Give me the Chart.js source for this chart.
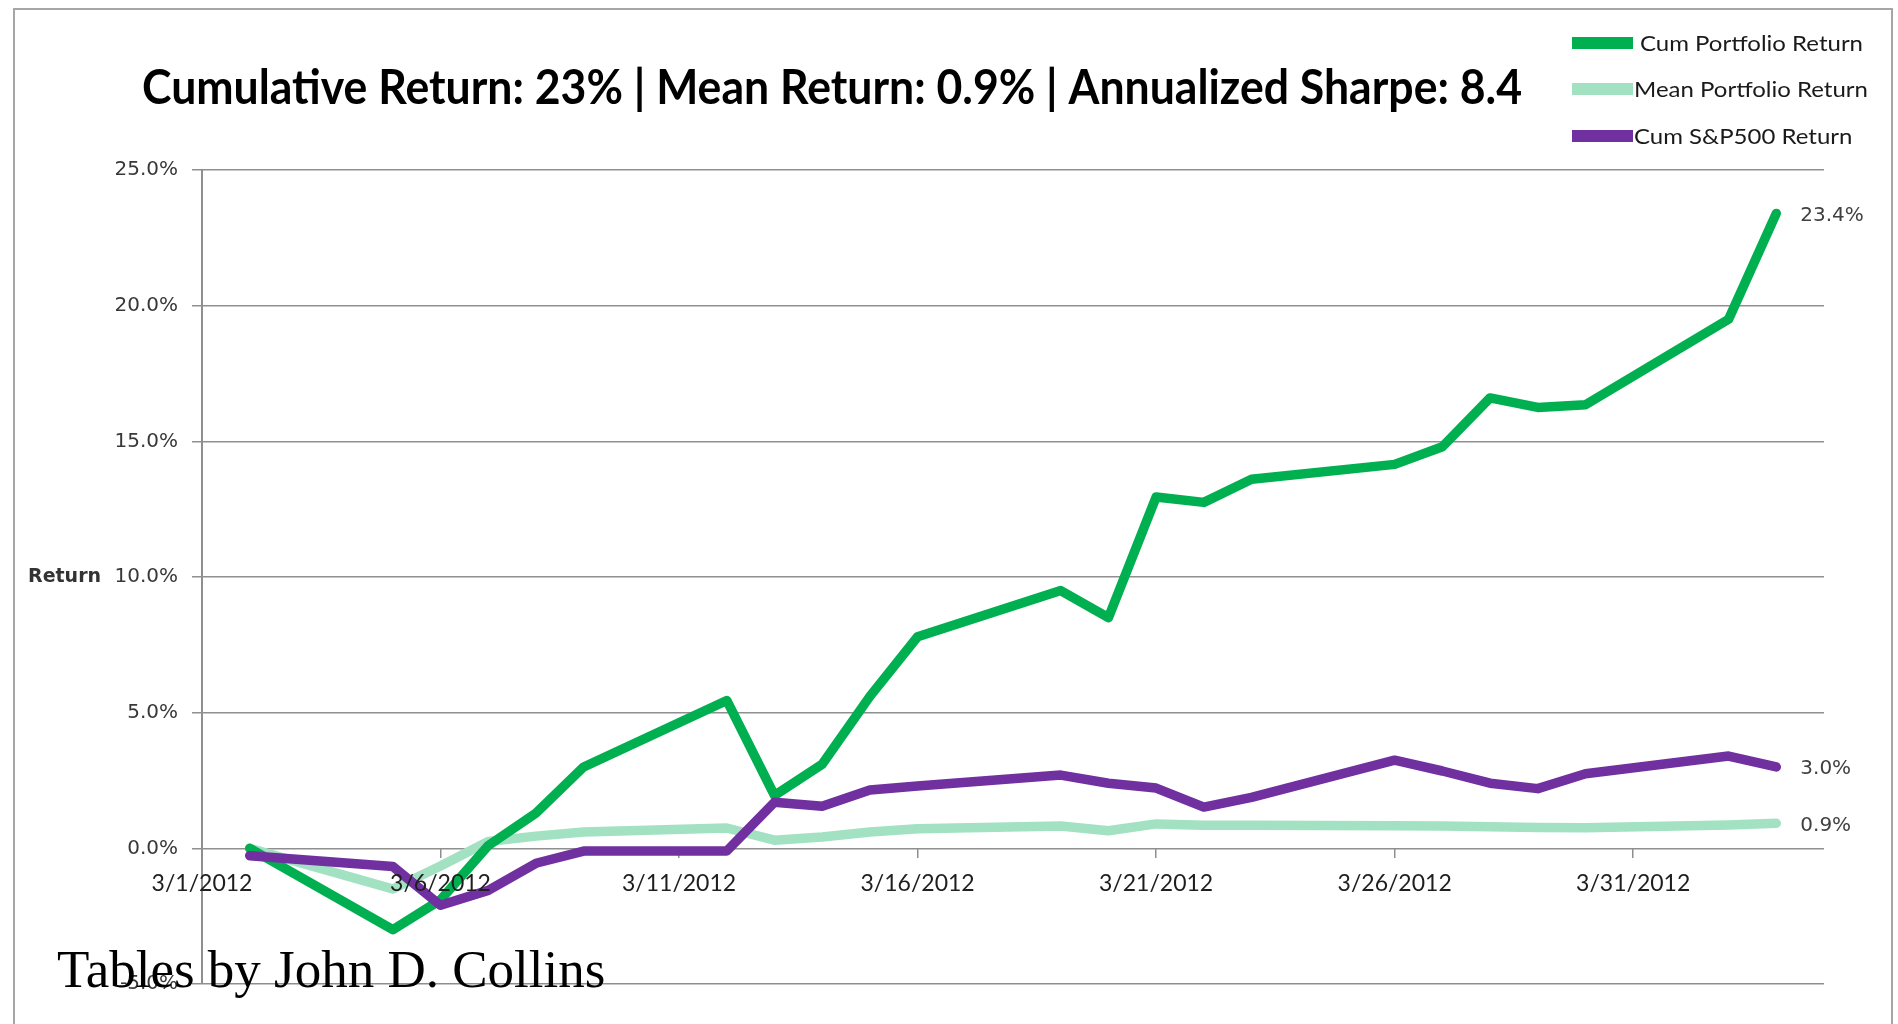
<!DOCTYPE html>
<html>
<head>
<meta charset="utf-8">
<script src="https://cdn.jsdelivr.net/npm/chart.js@4.4.1/dist/chart.umd.min.js"></script>
<style>
  html, body { margin: 0; padding: 0; background: #fff; }
  canvas { display: block; }
</style>
</head>
<body>
<canvas id="returnChart" width="1898" height="1024"></canvas>
<script>
// trading days (weekends skipped, x axis is a date axis)
const tradingDays = ['3/2/2012', '3/5/2012', '3/6/2012', '3/7/2012', '3/8/2012', '3/9/2012',
    '3/12/2012', '3/13/2012', '3/14/2012', '3/15/2012', '3/16/2012',
    '3/19/2012', '3/20/2012', '3/21/2012', '3/22/2012', '3/23/2012',
    '3/26/2012', '3/27/2012', '3/28/2012', '3/29/2012', '3/30/2012',
    '4/2/2012', '4/3/2012'];

const cumPortfolio = [0.0, -3.0, -1.9, 0.1, 1.3, 3.0, 5.45, 1.95, 3.1, 5.6, 7.8,
    9.5, 8.5, 12.95, 12.75, 13.6, 14.15, 14.8, 16.6, 16.25, 16.35, 19.5, 23.4];
const meanPortfolio = [0.0, -1.5, -0.65, 0.25, 0.45, 0.6, 0.75, 0.3, 0.42, 0.6, 0.72,
    0.82, 0.65, 0.9, 0.85, 0.85, 0.83, 0.82, 0.8, 0.77, 0.76, 0.86, 0.92];
const cumSP500 = [-0.27, -0.67, -2.1, -1.55, -0.55, -0.1, -0.1, 1.7, 1.55, 2.15, 2.3,
    2.7, 2.4, 2.22, 1.52, 1.88, 3.25, 2.85, 2.4, 2.2, 2.75, 3.4, 3.0];

const xTickDays = [0, 5, 10, 15, 20, 25, 30];
const xTickLabels = ['3/1/2012', '3/6/2012', '3/11/2012', '3/16/2012', '3/21/2012', '3/26/2012', '3/31/2012'];

const titleText = 'Cumulative Return: 23% | Mean Return: 0.9% | Annualized Sharpe: 8.4';

function dayOffset(s) {
    const [m, d, y] = s.split('/').map(Number);
    return (Date.UTC(y, m - 1, d) - Date.UTC(2012, 2, 1)) / 86400000;
}
const toPoints = vals => vals.map((v, i) => ({ x: dayOffset(tradingDays[i]), y: v }));

const gridGrey = '#8f8f8f';

const overlay = {
    id: 'overlay',
    beforeDraw(chart) {
        const ctx = chart.ctx;
        ctx.save();
        ctx.fillStyle = '#fff';
        ctx.fillRect(0, 0, chart.width, chart.height);
        ctx.strokeStyle = '#a6a6a6';
        ctx.lineWidth = 2;
        ctx.beginPath();
        ctx.moveTo(14, 1024);
        ctx.lineTo(14, 9);
        ctx.lineTo(1892, 9);
        ctx.lineTo(1892, 1024);
        ctx.stroke();
        ctx.restore();
    },
    afterDraw(chart) {
        const ctx = chart.ctx;

        // title
        ctx.save();
        ctx.font = 'bold 48px Lato';
        ctx.fillStyle = '#000';
        ctx.textAlign = 'center';
        ctx.textBaseline = 'alphabetic';
        const tw = ctx.measureText(titleText).width;
        ctx.translate(832, 104);
        ctx.scale(1380 / tw, 1);
        ctx.fillText(titleText, 0, 0);
        ctx.restore();

        // legend
        ctx.save();
        ctx.font = '22px Lato';
        const lsx = 223 / ctx.measureText(chart.data.datasets[0].label).width;
        const legendY = [43, 89, 136];
        const legendTextX = [1640, 1634, 1634];
        chart.data.datasets.forEach((ds, i) => {
            ctx.strokeStyle = ds.borderColor;
            ctx.lineWidth = 12;
            ctx.lineCap = 'butt';
            ctx.beginPath();
            ctx.moveTo(1572, legendY[i]);
            ctx.lineTo(1633, legendY[i]);
            ctx.stroke();
            ctx.save();
            ctx.fillStyle = '#1a1a1a';
            ctx.textBaseline = 'middle';
            ctx.translate(legendTextX[i], legendY[i] + 1);
            ctx.scale(lsx, 1);
            ctx.fillText(ds.label, 0, 0);
            ctx.restore();
        });
        ctx.restore();

        // axis title
        ctx.save();
        ctx.font = 'bold 19px "DejaVu Sans"';
        ctx.fillStyle = '#333';
        ctx.textBaseline = 'middle';
        ctx.fillText('Return', 28, chart.scales.y.getPixelForValue(10));
        ctx.restore();

        // end-of-line value labels
        ctx.save();
        ctx.font = '20px "DejaVu Sans"';
        ctx.fillStyle = '#404040';
        ctx.textBaseline = 'middle';
        chart.data.datasets.forEach((ds, i) => {
            const pts = chart.getDatasetMeta(i).data;
            const last = pts[pts.length - 1];
            const v = ds.data[ds.data.length - 1].y;
            ctx.fillText(v.toFixed(1) + '%', last.x + 24, last.y + 2);
        });
        ctx.restore();

        // credit
        ctx.save();
        ctx.font = '53px "Liberation Serif"';
        ctx.fillStyle = '#000';
        ctx.textBaseline = 'alphabetic';
        ctx.fillText('Tables by John D. Collins', 57, 987);
        ctx.restore();
    }
};

const ctx = document.getElementById('returnChart').getContext('2d');
const returnChart = new Chart(ctx, {
    type: 'line',
    data: {
        datasets: [{
            label: 'Cum Portfolio Return',
            data: toPoints(cumPortfolio),
            borderColor: '#00b050',
            order: 1,
        }, {
            label: 'Mean Portfolio Return',
            data: toPoints(meanPortfolio),
            borderColor: '#a3e1c3',
            order: 2,
        }, {
            label: 'Cum S&P500 Return',
            data: toPoints(cumSP500),
            borderColor: '#7030a0',
            order: 0,
        }],
    },
    options: {
        responsive: false,
        devicePixelRatio: 1,
        animation: false,
        layout: {
            padding: { left: 0, top: 170, right: 74, bottom: 40 },
        },
        elements: {
            line: { borderWidth: 9.5, tension: 0, borderJoinStyle: 'round', borderCapStyle: 'round' },
            point: { radius: 0 },
        },
        plugins: {
            legend: { display: false },
            title: { display: false },
            tooltip: { enabled: false },
        },
        scales: {
            x: {
                type: 'linear',
                position: { y: 0 },
                min: 0,
                max: 34,
                afterBuildTicks: scale => {
                    scale.ticks = xTickDays.map(v => ({ value: v }));
                },
                ticks: {
                    z: 1,
                    autoSkip: false,
                    maxRotation: 0,
                    padding: 11,
                    color: '#1e1e1e',
                    font: { family: 'Lato', size: 23 },
                    callback: (v, i) => xTickLabels[i],
                },
                grid: {
                    drawOnChartArea: false,
                    drawTicks: true,
                    tickLength: 10,
                    color: gridGrey,
                    lineWidth: 1.5,
                },
                border: { display: false },
            },
            y: {
                min: -5,
                max: 25,
                afterFit: scale => { scale.width = 202; },
                ticks: {
                    stepSize: 5,
                    padding: 14,
                    color: '#383838',
                    font: { family: 'DejaVu Sans', size: 20 },
                    callback: v => v.toFixed(1) + '%',
                },
                grid: {
                    color: gridGrey,
                    lineWidth: 1.5,
                    drawTicks: true,
                    tickLength: 10,
                },
                border: { display: true, color: gridGrey, width: 2 },
            },
        },
    },
    plugins: [overlay],
});
</script>
</body>
</html>
